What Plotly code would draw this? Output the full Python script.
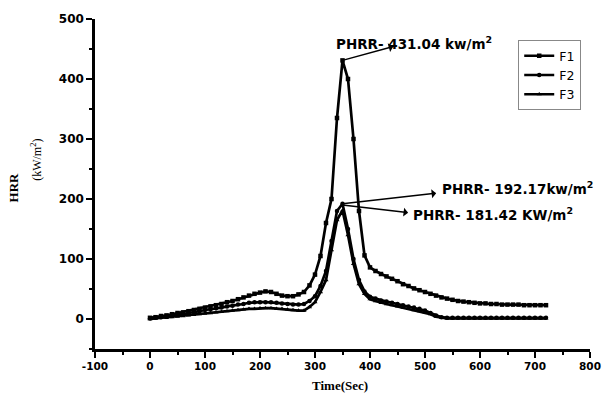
import plotly.graph_objects as go

time_s = list(range(0, 730, 10))

f1_hrr = [2, 3, 5, 6, 8, 10, 11, 13, 15, 17, 19, 21, 23, 25, 28, 30, 33, 36, 39, 42,
          44, 46, 45, 42, 39, 38, 38, 41, 45, 56, 74, 105, 160, 200, 335, 431, 400, 300, 180, 106,
          86, 80, 75, 71, 67, 63, 58, 55, 51, 48, 45, 42, 39, 36, 34, 32, 30, 29, 28, 27,
          26, 26, 25, 25, 24, 24, 24, 24, 23, 23, 23, 23, 23]
f2_hrr = [1, 2, 3, 4, 5, 7, 8, 10, 11, 13, 15, 16, 18, 19, 21, 22, 24, 25, 27, 28,
          28, 28, 28, 27, 26, 25, 24, 24, 25, 30, 38, 55, 80, 130, 180, 192, 150, 100, 65, 46,
          37, 34, 31, 29, 27, 25, 23, 21, 19, 17, 14, 10, 6, 3, 2, 2, 2, 2, 2, 2,
          2, 2, 2, 2, 2, 2, 2, 2, 2, 2, 2, 2, 2]
f3_hrr = [0, 1, 2, 2, 3, 4, 5, 6, 7, 8, 9, 10, 11, 12, 13, 14, 15, 16, 17, 17,
          18, 18, 18, 17, 17, 16, 15, 14, 14, 20, 28, 45, 65, 115, 165, 181, 140, 92, 58, 42,
          33, 30, 27, 25, 23, 21, 19, 17, 15, 13, 11, 8, 4, 2, 1, 1, 1, 1, 1, 1,
          1, 1, 1, 1, 1, 1, 1, 1, 1, 1, 1, 1, 1]

series_names = ["F1", "F2", "F3"]
series_symbols = ["square", "circle", "triangle-up"]

x_ticks = [-100, 0, 100, 200, 300, 400, 500, 600, 700, 800]
y_ticks = [0, 100, 200, 300, 400, 500]

peak_labels = ["PHRR- 431.04 kw/m<sup>2</sup>", "PHRR- 192.17kw/m<sup>2</sup>", "PHRR- 181.42 KW/m<sup>2</sup>"]
peak_points = [(350, 431), (350, 192), (350, 190)]
arrow_ends = [(445, 455), (523, 210), (472, 177)]
label_pos = [(335, 460), (527, 218), (475, 175)]

fig = go.Figure()
for name, ys, sym in zip(series_names, [f1_hrr, f2_hrr, f3_hrr], series_symbols):
    fig.add_trace(go.Scatter(
        x=time_s, y=ys, name=name, mode="lines+markers",
        line=dict(color="black", width=2.7),
        marker=dict(symbol=sym, size=4.5, color="black"),
    ))

for (px, py), (ex, ey), (lx, ly), txt in zip(peak_points, arrow_ends, label_pos, peak_labels):
    fig.add_annotation(x=px, y=py, ax=ex, ay=ey, xref="x", yref="y", axref="x", ayref="y",
                       text="", showarrow=True, arrowhead=2, arrowside="start",
                       arrowwidth=1.5, arrowsize=1, arrowcolor="black", standoff=0, startstandoff=0)
    fig.add_annotation(x=lx, y=ly, xref="x", yref="y", text=txt, showarrow=False,
                       xanchor="left", yanchor="middle",
                       font=dict(family="DejaVu Sans", size=13.5, color="black", weight="bold"))

fig.add_annotation(x=0.4949, y=-0.11, xref="paper", yref="paper", text="Time(Sec)", showarrow=False,
                   xanchor="center", yanchor="middle",
                   font=dict(family="Liberation Serif", size=13, color="black", weight="bold"))
fig.add_annotation(x=-0.1657, y=0.4895, xref="paper", yref="paper", text="HRR", textangle=-90,
                   showarrow=False, xanchor="center", yanchor="middle",
                   font=dict(family="Liberation Serif", size=13, color="black", weight="bold"))
fig.add_annotation(x=-0.117, y=0.5736, xref="paper", yref="paper", text="(kW/m<sup>2</sup>)", textangle=-90,
                   showarrow=False, xanchor="center", yanchor="middle",
                   font=dict(family="Liberation Serif", size=12, color="black"))

common = dict(showline=True, linecolor="black", linewidth=2.5, ticks="outside", ticklen=6, tickwidth=2,
              tickcolor="black", showgrid=False, zeroline=False,
              minor=dict(dtick=50, ticks="outside", ticklen=3, tickwidth=2, tickcolor="black"))
fig.update_xaxes(range=[-100, 800], tickmode="array", tickvals=x_ticks,
                 ticktext=[f"<b>{v}</b>" for v in x_ticks],
                 tickfont=dict(family="DejaVu Sans", size=10.5, color="black"), **common)
fig.update_yaxes(range=[-50, 500], tickmode="array", tickvals=y_ticks,
                 ticktext=[f"<b>{v}</b>" for v in y_ticks],
                 tickfont=dict(family="DejaVu Sans", size=12, color="black"), **common)

fig.update_layout(
    width=613, height=396, margin=dict(l=95, r=23, t=16, b=47),
    paper_bgcolor="white", plot_bgcolor="white",
    legend=dict(x=0.855, y=0.936, xanchor="left", yanchor="top", bordercolor="#888", borderwidth=1,
                font=dict(family="DejaVu Sans", size=12.5, color="black"), tracegroupgap=0,
                itemwidth=30, bgcolor="white"),
)

fig.write_html("out.html")
